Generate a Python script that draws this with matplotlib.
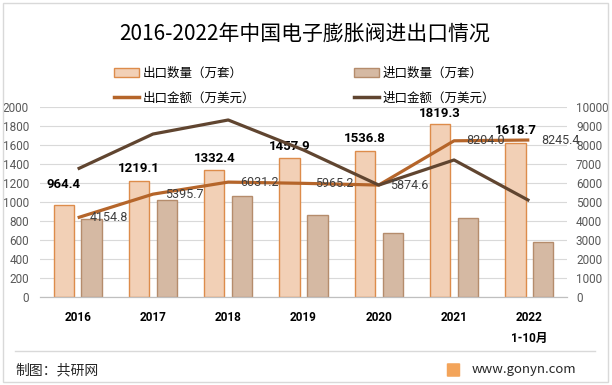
import numpy as np
import matplotlib
matplotlib.use("Agg")
import matplotlib.pyplot as plt
from matplotlib.patches import Rectangle, FancyBboxPatch
from matplotlib.lines import Line2D
import matplotlib.transforms as mtransforms

plt.rcParams['font.family'] = ['Noto Sans CJK SC', 'DejaVu Sans']
num_font = ['Roboto', 'DejaVu Sans']

# data
years = ['2016', '2017', '2018', '2019', '2020', '2021', '2022']
export_qty = [964.4, 1219.1, 1332.4, 1457.9, 1536.8, 1819.3, 1618.7]   # 万套
import_qty = [815, 1015, 1057, 857, 667, 828, 573]                      # 万套
export_val = [4154.8, 5395.7, 6031.2, 5965.2, 5874.6, 8204.0, 8245.4]  # 万美元
import_val = [6720, 8560, 9300, 7720, 5874.6, 7195, 5050]              # 万美元

c_exp_bar = '#F2D0B6'
c_exp_edge = '#DD8C4B'
c_imp_bar = '#D5B9A3'
c_imp_edge = '#B58C6C'
c_exp_line = '#B5652A'
c_imp_line = '#604530'

fig = plt.figure(figsize=(6.12, 3.85), dpi=100)
ax = fig.add_axes([0.0654, 0.2294, 0.861, 0.4935])
ax2 = ax.twinx()

x = np.arange(len(years))
w = 0.27
ax.bar(x - 0.185, export_qty, w, color=c_exp_bar, edgecolor=c_exp_edge, linewidth=1, zorder=2)
ax.bar(x + 0.185, import_qty, w, color=c_imp_bar, edgecolor=c_imp_edge, linewidth=1, zorder=2)

# bar labels (2016 sits a bit higher to clear the line)
lab_off = [15, 8.6, 8.6, 8.6, 8.6, 7.5, 8.6]
for i, v in enumerate(export_qty):
    ax.annotate(f'{v:.1f}', (x[i] - 0.185, v), xytext=(0, lab_off[i]), textcoords='offset points',
                ha='center', va='center', fontsize=9.5, fontweight='bold', color='black',
                family=num_font, zorder=5)

ax2.plot(x, export_val, color=c_exp_line, lw=2.3, zorder=3, solid_capstyle='butt')
ax2.plot(x, import_val, color=c_imp_line, lw=2.3, zorder=3, solid_capstyle='butt')
for i, v in enumerate(export_val):
    ax2.annotate(f'{v:.1f}', (x[i], v), xytext=(8.5, 0), textcoords='offset points',
                 ha='left', va='center', fontsize=9, color='#404040', family=num_font)

ax.set_xlim(-0.5, 6.5)
ax.set_ylim(0, 2000)
ax.set_yticks(np.arange(0, 2001, 200))
ax2.set_ylim(0, 10000)
ax2.set_yticks(np.arange(0, 10001, 1000))

ax.set_xticks(x)
ax.set_xticklabels(years, fontweight='bold', fontsize=8.5, family=num_font)
ax.tick_params(axis='x', length=0, pad=10)
ax.tick_params(axis='y', length=0, pad=8, labelsize=8.5, labelcolor='#595959')
ax2.tick_params(axis='y', length=0, pad=6.5, labelsize=8.5, labelcolor='#595959')
for t in ax.get_yticklabels() + ax2.get_yticklabels():
    t.set_family(num_font)

ax.grid(axis='y', color='#D9D9D9', lw=0.8, zorder=0)
ax.set_axisbelow(True)
for a in (ax, ax2):
    for s in ['top', 'left', 'right']:
        a.spines[s].set_visible(False)
    a.spines['bottom'].set_color('#BFBFBF')

trans = mtransforms.blended_transform_factory(ax.transData, ax.transAxes)
ax.text(6, -0.222, '1-10月', transform=trans, ha='center', va='center',
        fontsize=8.5, fontweight='bold', family=['Roboto', 'Noto Sans CJK SC'])

# title
fig.text(0.497, 1 - 35 / 385, '2016-2022年中国电子膨胀阀进出口情况', ha='center', va='center',
         fontsize=15, color='black')

# legend
handles = [
    Rectangle((0, 0), 1, 1, facecolor=c_exp_bar, edgecolor=c_exp_edge, lw=1),
    Line2D([], [], color=c_exp_line, lw=2.5),
    Rectangle((0, 0), 1, 1, facecolor=c_imp_bar, edgecolor=c_imp_edge, lw=1),
    Line2D([], [], color=c_imp_line, lw=2.5),
]
labels = ['出口数量（万套）', '出口金额（万美元）', '进口数量（万套）', '进口金额（万美元）']
fig.legend(handles, labels, ncol=2, loc='upper left', bbox_to_anchor=(0.186, 0.827),
           frameon=False, fontsize=9, borderpad=0, borderaxespad=0, handlelength=2.0,
           handletextpad=0.3, columnspacing=7.9, labelspacing=0.95)

# frame, separator and footer
fig.patches.append(Rectangle((3 / 612, 3 / 385), 605 / 612, 379 / 385, transform=fig.transFigure,
                             fill=False, edgecolor='#D9D9D9', lw=1))
fig.lines.append(Line2D([15 / 612, 595 / 612], [1 - 351 / 385] * 2, transform=fig.transFigure,
                        color='#D9D9D9', lw=1))
fig.text(15 / 612, 1 - 370 / 385, '制图：共研网', ha='left', va='center', fontsize=10, color='#262626')
fig.patches.append(FancyBboxPatch((448 / 612, 1 - 376 / 385), 11 / 612, 12 / 385,
                                  boxstyle='round,pad=0.002', transform=fig.transFigure,
                                  facecolor='#F3A45A', edgecolor='none'))
fig.text(472 / 612, 1 - 370 / 385, 'www.gonyn.com', ha='left', va='center', fontsize=9.5,
         color='#262626')

fig.savefig('out.png', dpi=100)
